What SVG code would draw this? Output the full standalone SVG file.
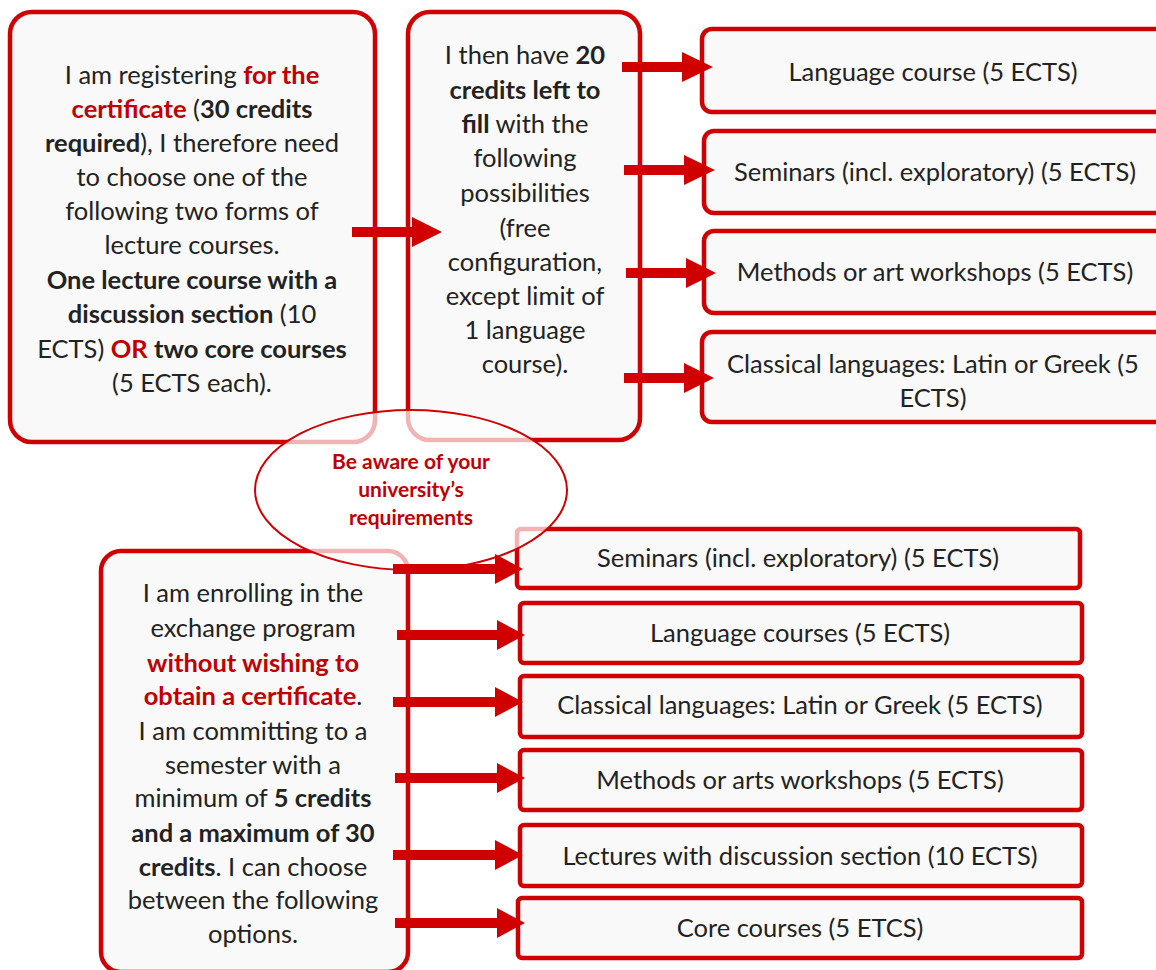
<svg xmlns="http://www.w3.org/2000/svg" width="1156" height="970" viewBox="0 0 1156 970">
<defs>
<style>
.box{fill:#f9f9f9;stroke:#d00000;stroke-width:4.5}
.opt{fill:#f9f9f9;stroke:#d00000;stroke-width:4.5}
.t{font-family:Lato,"Liberation Sans",sans-serif;font-size:25.5px;fill:#222;text-anchor:middle}
.b{font-weight:bold}
.r{fill:#c00000;font-weight:bold}
.ell{fill:#ffffff;fill-opacity:0.7;stroke:#d00000;stroke-width:2}
.et{font-family:Lato,"Liberation Sans",sans-serif;font-size:21px;font-weight:bold;fill:#c00000;text-anchor:middle}
.ln{stroke:#d00000;stroke-width:10;fill:none}
.hd{fill:#d00000}
</style>
</defs>
<rect width="1156" height="970" fill="#ffffff"/>

<g id="node-certificate">
<rect class="box" x="10" y="12" width="365" height="430" rx="22"/>
<text class="t" x="192" y="84">I am registering <tspan class="r">for the</tspan></text>
<text class="t" x="192" y="118"><tspan class="r">certificate</tspan> (<tspan class="b">30 credits</tspan></text>
<text class="t" x="192" y="152"><tspan class="b">required</tspan>), I therefore need</text>
<text class="t" x="192" y="186">to choose one of the</text>
<text class="t" x="192" y="220">following two forms of</text>
<text class="t" x="192" y="254">lecture courses.</text>
<text class="t b" x="192" y="289">One lecture course with a</text>
<text class="t" x="192" y="323"><tspan class="b">discussion section</tspan> (10</text>
<text class="t" x="192" y="358">ECTS) <tspan class="r">OR</tspan><tspan class="b"> two core courses</tspan></text>
<text class="t" x="192" y="392">(5 ECTS each).</text>
</g>

<g id="node-remaining">
<rect class="box" x="408" y="12" width="232" height="428" rx="22"/>
<text class="t" x="525" y="64">I then have <tspan class="b">20</tspan></text>
<text class="t b" x="525" y="99">credits left to</text>
<text class="t" x="525" y="133"><tspan class="b">fill</tspan> with the</text>
<text class="t" x="525" y="167">following</text>
<text class="t" x="525" y="202">possibilities</text>
<text class="t" x="525" y="237">(free</text>
<text class="t" x="525" y="271">configuration,</text>
<text class="t" x="525" y="305">except limit of</text>
<text class="t" x="525" y="339">1 language</text>
<text class="t" x="525" y="373">course).</text>
</g>

<g id="node-language-course">
<rect class="box" x="702" y="29" width="480" height="83" rx="10"/>
<text class="t" x="933" y="81">Language course (5 ECTS)</text>
</g>
<g id="node-seminars-top">
<rect class="box" x="704" y="131" width="480" height="82" rx="10"/>
<text class="t" x="935" y="181">Seminars (incl. exploratory) (5 ECTS)</text>
</g>
<g id="node-methods-top">
<rect class="box" x="704" y="231" width="480" height="82" rx="10"/>
<text class="t" x="935" y="281">Methods or art workshops (5 ECTS)</text>
</g>
<g id="node-classical-top">
<rect class="box" x="702" y="332" width="480" height="90" rx="10"/>
<text class="t" x="933" y="373">Classical languages: Latin or Greek (5</text>
<text class="t" x="933" y="407">ECTS)</text>
</g>

<g id="node-exchange">
<rect class="box" x="101" y="551" width="307" height="421" rx="20"/>
<text class="t" x="253" y="602">I am enrolling in the</text>
<text class="t" x="253" y="637">exchange program</text>
<text class="t r" x="253" y="672">without wishing to</text>
<text class="t" x="253" y="705"><tspan class="r">obtain a certificate</tspan>.</text>
<text class="t" x="253" y="740">I am committing to a</text>
<text class="t" x="253" y="774">semester with a</text>
<text class="t" x="253" y="807">minimum of <tspan class="b">5 credits</tspan></text>
<text class="t b" x="253" y="842">and a maximum of 30</text>
<text class="t" x="253" y="876"><tspan class="b">credits</tspan>. I can choose</text>
<text class="t" x="253" y="909">between the following</text>
<text class="t" x="253" y="943">options.</text>
</g>

<g id="node-seminars-bottom">
<rect class="opt" x="517" y="529" width="563" height="59" rx="4"/>
<text class="t" x="798" y="567">Seminars (incl. exploratory) (5 ECTS)</text>
</g>
<g id="node-language-bottom">
<rect class="opt" x="520" y="603" width="562" height="60" rx="4"/>
<text class="t" x="800" y="642">Language courses (5 ECTS)</text>
</g>
<g id="node-classical-bottom">
<rect class="opt" x="520" y="676" width="562" height="61" rx="4"/>
<text class="t" x="800" y="714">Classical languages: Latin or Greek (5 ECTS)</text>
</g>
<g id="node-methods-bottom">
<rect class="opt" x="520" y="750" width="562" height="60" rx="4"/>
<text class="t" x="800" y="789">Methods or arts workshops (5 ECTS)</text>
</g>
<g id="node-lectures-bottom">
<rect class="opt" x="520" y="825" width="562" height="61" rx="4"/>
<text class="t" x="800" y="865">Lectures with discussion section (10 ECTS)</text>
</g>
<g id="node-core-bottom">
<rect class="opt" x="518" y="898" width="564" height="60" rx="4"/>
<text class="t" x="800" y="937">Core courses (5 ETCS)</text>
</g>

<g id="node-note">
<ellipse class="ell" cx="411" cy="490" rx="156" ry="80"/>
<text class="et" x="411" y="469">Be aware of your</text>
<text class="et" x="411" y="497">university’s</text>
<text class="et" x="411" y="525">requirements</text>
</g>

<g id="connectors">
<line class="ln" x1="352" y1="232" x2="415" y2="232"/>
<polygon class="hd" points="412,217 442,232 412,247"/>

<line class="ln" x1="622" y1="67" x2="685" y2="67"/>
<polygon class="hd" points="682,52 713,67 682,82"/>
<line class="ln" x1="624" y1="170" x2="687" y2="170"/>
<polygon class="hd" points="684,155 715,170 684,185"/>
<line class="ln" x1="626" y1="273" x2="690" y2="273"/>
<polygon class="hd" points="686,258 716,273 686,288"/>
<line class="ln" x1="624" y1="378" x2="688" y2="378"/>
<polygon class="hd" points="684,363 714,378 684,393"/>

<line class="ln" x1="393" y1="569" x2="498" y2="569"/>
<polygon class="hd" points="495,554 523,569 495,584"/>
<line class="ln" x1="397" y1="635" x2="500" y2="635"/>
<polygon class="hd" points="497,620 525,635 497,650"/>
<line class="ln" x1="393" y1="702" x2="498" y2="702"/>
<polygon class="hd" points="495,687 523,702 495,717"/>
<line class="ln" x1="395" y1="778" x2="500" y2="778"/>
<polygon class="hd" points="497,763 525,778 497,793"/>
<line class="ln" x1="393" y1="855" x2="498" y2="855"/>
<polygon class="hd" points="495,840 523,855 495,870"/>
<line class="ln" x1="395" y1="923" x2="500" y2="923"/>
<polygon class="hd" points="497,908 525,923 497,938"/>
</g>
</svg>
